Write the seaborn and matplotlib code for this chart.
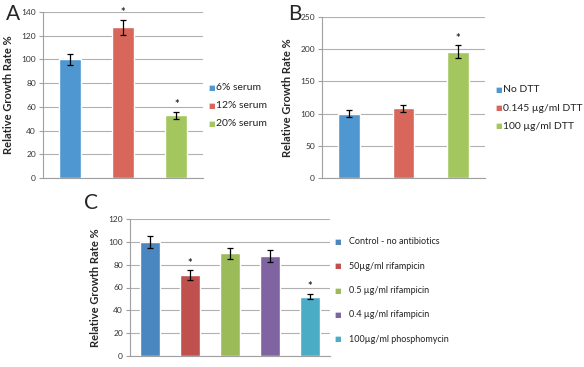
import numpy as np
import pandas as pd
import matplotlib
matplotlib.use("Agg")
import matplotlib.pyplot as plt
import seaborn as sns

# data
a_labels = ["6% serum", "12% serum", "20% serum"]
a_values = [100, 127, 53]
a_errors = [5, 6.5, 3]
a_star = [False, True, True]
a_colors = ["#4E97D0", "#D9665A", "#A3C65E"]

b_labels = ["No DTT", "0.145 \u00b5g/ml DTT", "100 \u00b5g/ml DTT"]
b_values = [100, 108, 196]
b_errors = [5, 5, 10]
b_star = [False, False, True]
b_colors = ["#4E97D0", "#D9665A", "#A3C65E"]

c_labels = ["Control - no antibiotics", "50\u00b5g/ml rifampicin", "0.5 \u00b5g/ml rifampicin",
            "0.4 \u00b5g/ml rifampicin", "100\u00b5g/ml phosphomycin"]
c_values = [100, 71, 90, 87.5, 52]
c_errors = [5, 4, 5, 5, 2.5]
c_star = [False, True, False, False, True]
c_colors = ["#4A86BF", "#C0504D", "#9BBB59", "#8064A2", "#4BACC6"]

sns.set_style("white")
plt.rcParams['font.family'] = ['Lato', 'DejaVu Sans']

fig = plt.figure(figsize=(5.84, 3.67), dpi=100)


def panel(rect, labels, values, errors, stars, colors, ymax, ystep, width,
          letter, letter_xy, leg_xy, leg_gap, leg_size, leg_pad):
    ax = fig.add_axes(rect)
    df = pd.DataFrame({"cond": labels, "val": values})
    sns.barplot(data=df, x="cond", y="val", hue="cond", palette=colors,
                width=width, dodge=False, legend=False, ax=ax, errorbar=None,
                saturation=1)
    ax.errorbar(np.arange(len(values)), values, yerr=errors, fmt="none",
                ecolor="black", elinewidth=0.9, capsize=2, capthick=0.9)
    for i, (v, e, s) in enumerate(zip(values, errors, stars)):
        if s:
            ax.text(i, v + e + ymax * 0.01, "*", ha="center", va="bottom",
                    fontsize=8, fontweight="bold")
    ax.set_ylim(0, ymax)
    ax.set_yticks(np.arange(0, ymax + 1, ystep))
    ax.set_xlim(-0.5, len(values) - 0.5)
    ax.set_xticks([])
    ax.set_xlabel("")
    ax.set_ylabel("Relative Growth Rate %", fontsize=8, fontweight="bold",
                  labelpad=5)
    ax.yaxis.grid(True, color="#B0B0B0", linewidth=0.8)
    ax.set_axisbelow(True)
    for sp in ["top", "right"]:
        ax.spines[sp].set_visible(False)
    for sp in ["left", "bottom"]:
        ax.spines[sp].set_color("#A0A0A0")
        ax.spines[sp].set_linewidth(0.8)
    ax.tick_params(axis="y", labelsize=6, colors="#A0A0A0", labelcolor="#333333",
                   length=3, width=0.8, direction="out", left=True, pad=2)
    fig.text(letter_xy[0], letter_xy[1], letter, fontsize=15, ha="left", va="center")
    # legend as colored squares + text
    for k, (lab, col) in enumerate(zip(labels, colors)):
        y = leg_xy[1] - k * leg_gap
        fig.text(leg_xy[0], y, "\u25a0", color=col, fontsize=5, va="center", ha="left",
                 family=["DejaVu Sans"])
        fig.text(leg_xy[0] + leg_pad / 584, y, lab, fontsize=leg_size,
                 va="center", ha="left", color="#222222")
    return ax


W, H = 584, 367
panel([43 / W, 1 - 178 / H, 160 / W, 166 / H], a_labels, a_values, a_errors, a_star,
      a_colors, 140, 20, 0.41, "A", (6 / W, 1 - 14 / H), (208 / W, 1 - 88 / H), 18 / H, 7.5, 8)
panel([322 / W, 1 - 178 / H, 163 / W, 161 / H], b_labels, b_values, b_errors, b_star,
      b_colors, 250, 50, 0.4, "B", (288 / W, 1 - 14 / H), (495 / W, 1 - 90 / H), 18 / H, 7.5, 8)
panel([130 / W, 1 - 356 / H, 200 / W, 137 / H], c_labels, c_values, c_errors, c_star,
      c_colors, 120, 20, 0.52, "C", (84 / W, 1 - 203 / H), (334 / W, 1 - 242 / H), 24.3 / H, 6.5, 15)

fig.savefig("out.png", dpi=100)
